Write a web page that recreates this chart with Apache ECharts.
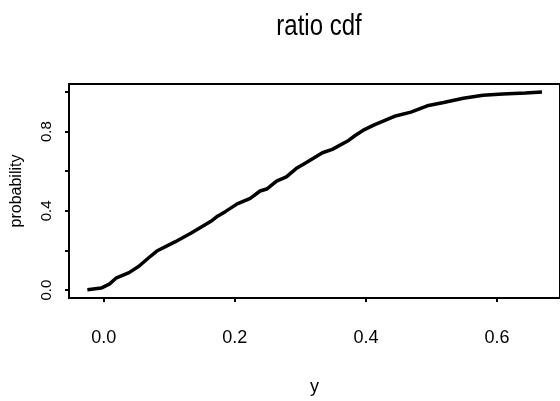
<!DOCTYPE html>
<html>
<head>
<meta charset="utf-8">
<script src="https://cdn.jsdelivr.net/npm/echarts@6/dist/echarts.min.js"></script>
<style>html,body{margin:0;padding:0;background:#fff}#c{width:560px;height:401px}</style>
</head>
<body>
<div id="c"></div>
<script>
var ratioX = [-0.025, -0.004, 0.0085, 0.0186, 0.0386, 0.0536, 0.0686, 0.081, 0.1086, 0.1335, 0.1635, 0.1736, 0.186, 0.2036, 0.2235, 0.2385, 0.2486, 0.2636, 0.2786, 0.2935, 0.3085, 0.3336, 0.3486, 0.3735, 0.3835, 0.396, 0.4135, 0.4435, 0.4686, 0.4935, 0.5185, 0.5485, 0.5785, 0.6085, 0.6435, 0.6685];
var probY = [0.002, 0.01, 0.03, 0.06, 0.088, 0.12, 0.163, 0.197, 0.243, 0.288, 0.347, 0.373, 0.397, 0.435, 0.463, 0.50, 0.51, 0.55, 0.571, 0.613, 0.643, 0.693, 0.71, 0.755, 0.78, 0.807, 0.835, 0.877, 0.898, 0.93, 0.947, 0.968, 0.983, 0.99, 0.995, 1.0];
var xTicks = [0, 0.2, 0.4, 0.6];
var yTicks = [0, 0.2, 0.4, 0.6, 0.8, 1.0];
var yLabels = [0, 0.4, 0.8];
var titleText = 'ratio cdf';
var xName = 'y';
var yName = 'probability';

var pts = ratioX.map(function (x, i) { return [x, probY[i]]; });
var chart = echarts.init(document.getElementById('c'), null, {renderer: 'canvas'});
var reg = "'Liberation Sans', Arial, sans-serif";
chart.setOption({
  animation: false,
  backgroundColor: '#fff',
  graphic: [{
    type: 'text', x: 319, y: 12, scaleX: 0.8,
    style: {text: titleText, font: "30px 'Liberation Sans', sans-serif", fill: '#000', align: 'center', verticalAlign: 'top'}
  }],
  grid: {left: 69, right: -8, top: 84, bottom: 101, show: true, borderColor: '#000', borderWidth: 2, containLabel: false},
  xAxis: {
    type: 'value', min: -0.053, max: 0.696,
    name: xName, nameLocation: 'middle', nameGap: 80,
    nameTextStyle: {fontFamily: reg, fontSize: 18, color: '#000'},
    axisLine: {show: false, onZero: false},
    splitLine: {show: false},
    axisTick: {show: true, length: 4, inside: false, lineStyle: {color: '#000', width: 2}, customValues: xTicks},
    axisLabel: {show: true, margin: 31, fontFamily: reg, fontSize: 18, color: '#000', customValues: xTicks,
      formatter: function (v) { return v.toFixed(1); }}
  },
  yAxis: {
    type: 'value', min: -0.04, max: 1.04,
    name: yName, nameLocation: 'middle', nameGap: 44,
    nameTextStyle: {fontFamily: reg, fontSize: 16, color: '#000'},
    axisLine: {show: false, onZero: false},
    splitLine: {show: false},
    axisTick: {show: true, length: 4, inside: false, lineStyle: {color: '#000', width: 2}, customValues: yTicks},
    axisLabel: {show: true, rotate: 90, margin: 15, fontFamily: reg, fontSize: 15, color: '#000', customValues: yLabels,
      formatter: function (v) { return v.toFixed(1); }}
  },
  series: [{
    type: 'line', data: pts, showSymbol: false, smooth: false,
    lineStyle: {color: '#000', width: 3.5}
  }]
});
</script>
</body>
</html>
